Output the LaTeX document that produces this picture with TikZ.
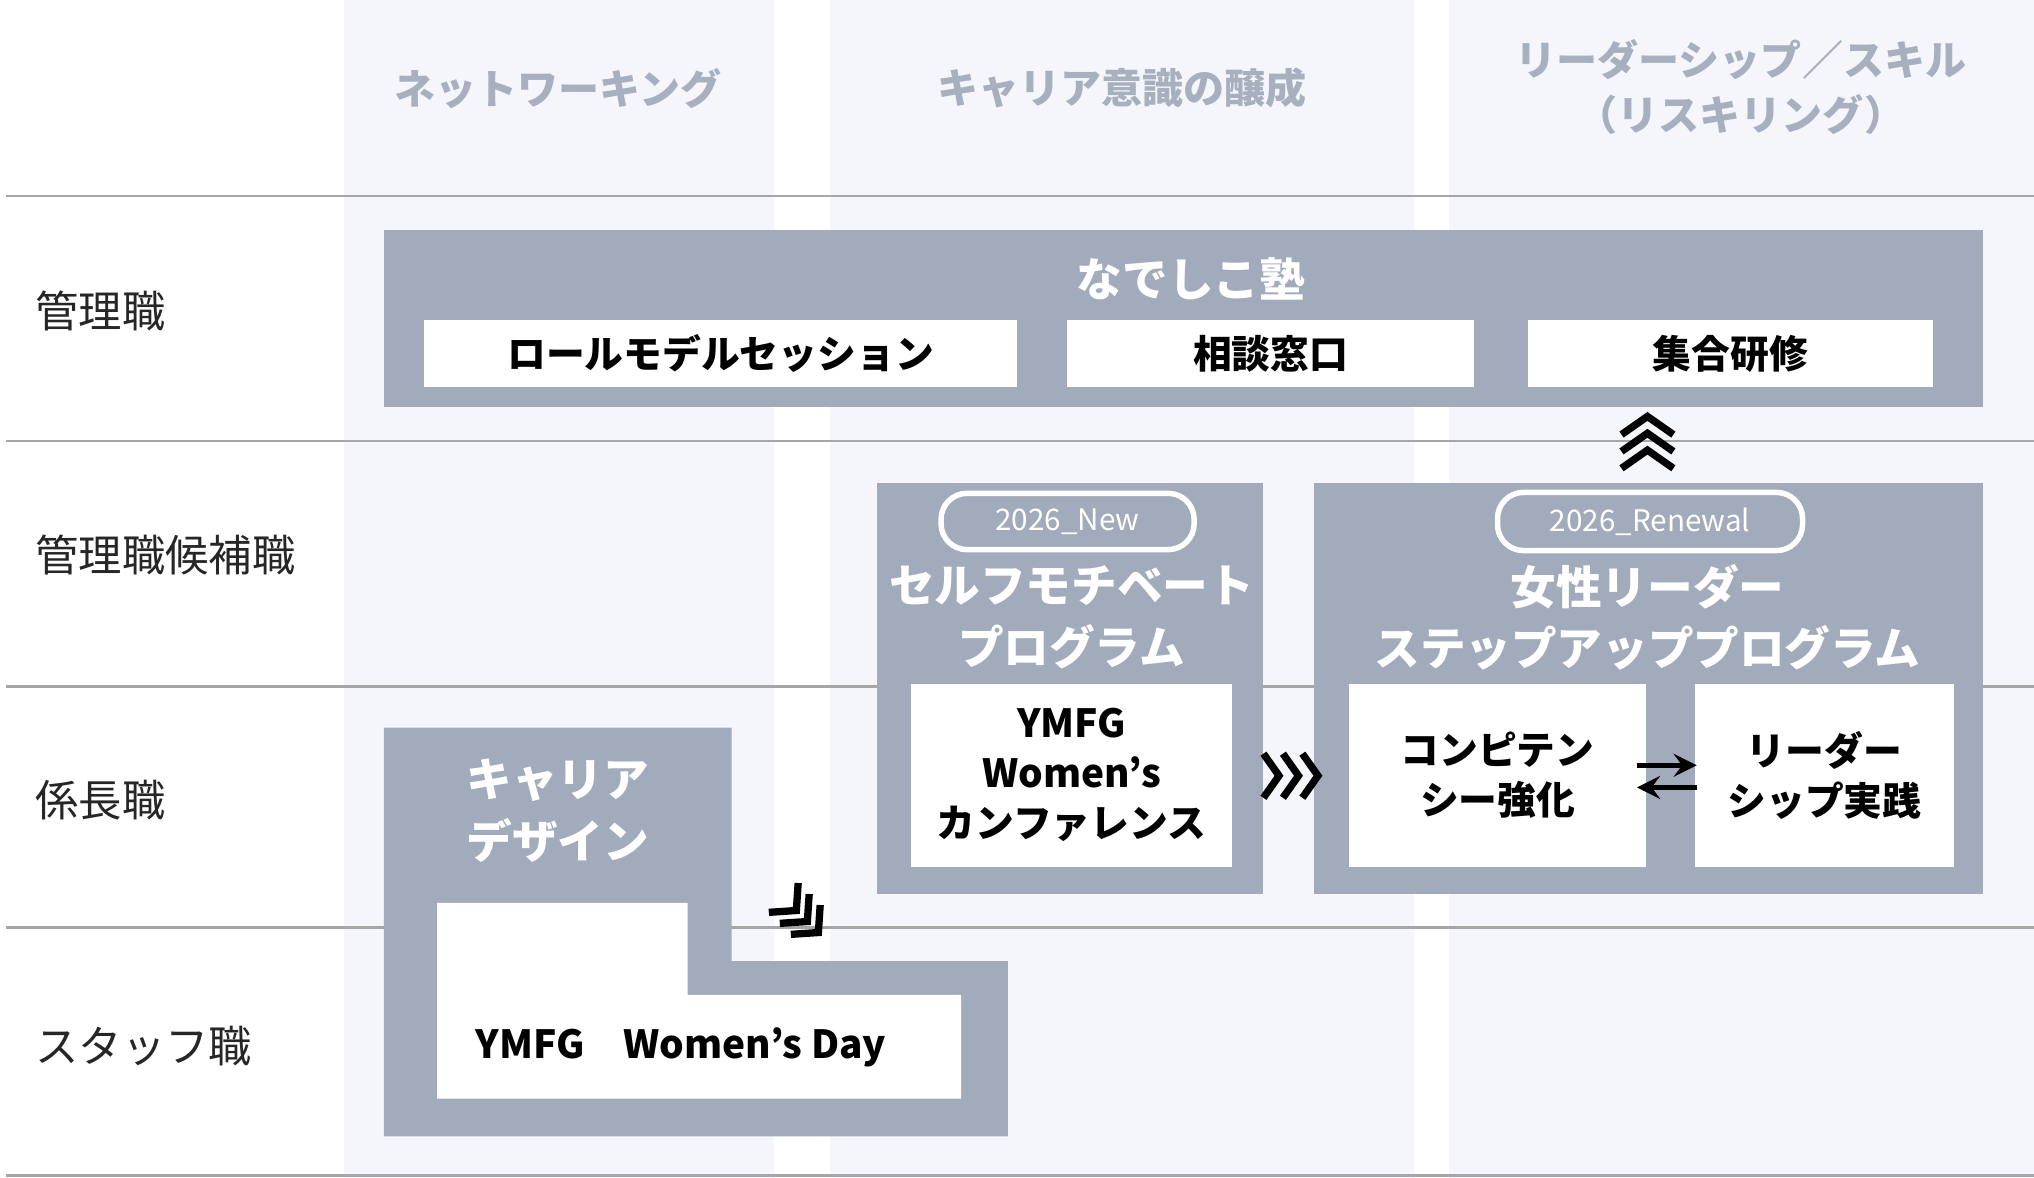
\documentclass[tikz,border=0pt]{standalone}
\usepackage{fontspec}
\setmainfont{Noto Sans CJK JP}
\usetikzlibrary{shapes,arrows,positioning,calc}
\definecolor{boxgray}{HTML}{A2ABBB}
\definecolor{colbg}{HTML}{F4F6FB}
\definecolor{headgray}{HTML}{A8B0BF}
\definecolor{rulegray}{HTML}{A6A6A6}
\begin{document}
\begin{tikzpicture}[x=0.01cm, y=-0.01cm]

% Define styles
\tikzstyle{column} = [fill=colbg, draw=none]
\tikzstyle{header} = [text=headgray, font=\fontsize{9}{12}\selectfont\bfseries, align=center]
\tikzstyle{rowlabel} = [anchor=west, font=\fontsize{9.5}{12}\selectfont, text=black!85]
\tikzstyle{rowline} = [draw=rulegray, line width=0.6pt]
\tikzstyle{program} = [fill=boxgray, draw=none]
\tikzstyle{title} = [text=white, font=\fontsize{10}{13.5}\selectfont\bfseries, align=center]
\tikzstyle{item} = [fill=white, draw=none, font=\fontsize{8.5}{11}\selectfont\bfseries, align=center, inner sep=0pt]
\tikzstyle{tag} = [draw=white, line width=1.2pt, rounded corners=0.2cm, minimum height=0.4cm, text=white, font=\fontsize{6.5}{8}\selectfont]
\tikzstyle{chevron} = [line width=1.6pt, black]
\tikzstyle{arrow} = [line width=1.2pt, ->, >=stealth]

\useasboundingbox (0,0) rectangle (1568,908);

% Columns
\fill [column] (265,0) rectangle (597,908);
\fill [column] (640,0) rectangle (1090,908);
\fill [column] (1117,0) rectangle (1568,908);
\node (h_net) [header] at (430,68) {ネットワーキング};
\node (h_career) [header] at (865,68) {キャリア意識の醸成};
\node (h_leader) [header] at (1342,67) {リーダーシップ／スキル\\（リスキリング）};

% Rows
\foreach \y in {151,340,529,715,906}
  \draw [rowline] (5,\y) -- (1568,\y);
\node (r_mgr) [rowlabel] at (15,240) {管理職};
\node (r_cand) [rowlabel] at (15,428) {管理職候補職};
\node (r_chief) [rowlabel] at (15,617) {係長職};
\node (r_staff) [rowlabel] at (15,806) {スタッフ職};

% Nadeshiko
\fill [program] (296,177) rectangle (1529,314);
\node (nad_title) [title] at (918,215) {なでしこ塾};
\node (nad_1) [item, minimum width=4.57cm, minimum height=0.51cm] at (555.5,272.5) {ロールモデルセッション};
\node (nad_2) [item, minimum width=3.13cm, minimum height=0.51cm] at (979.5,272.5) {相談窓口};
\node (nad_3) [item, minimum width=3.12cm, minimum height=0.51cm] at (1334,272.5) {集合研修};

% Self motivate
\fill [program] (676,372) rectangle (974,689);
\node (self_tag) [tag, minimum width=1.95cm] at (823,402) {2026\_New};
\node (self_title) [title] at (826,476) {セルフモチベート\\プログラム};
\node (self_1) [item, minimum width=2.48cm, minimum height=1.41cm] at (826,597.5) {YMFG\\Women’s\\カンファレンス};

% Leader step up
\fill [program] (1013,372) rectangle (1529,689);
\node (lead_tag) [tag, minimum width=2.35cm] at (1272,402) {2026\_Renewal};
\node (lead_title) [title] at (1270,476) {女性リーダー\\ステップアッププログラム};
\node (lead_1) [item, minimum width=2.29cm, minimum height=1.41cm] at (1154.5,597.5) {コンピテン\\シー強化};
\node (lead_2) [item, minimum width=1.99cm, minimum height=1.41cm] at (1406.5,597.5) {リーダー\\シップ実践};
\coordinate (sw_a) at (1262,590);
\coordinate (sw_b) at (1308,590);
\coordinate (sw_c) at (1308,607);
\coordinate (sw_d) at (1262,607);
\draw [arrow] (sw_a) -- (sw_b);
\draw [arrow] (sw_c) -- (sw_d);

% Career design
\fill [program] (296,561) -- (564,561) -- (564,741) -- (777,741) -- (777,876) -- (296,876) -- cycle;
\node (cd_title) [title] at (430,625) {キャリア\\デザイン};
\fill [white] (337,696) -- (530,696) -- (530,767) -- (741,767) -- (741,847) -- (337,847) -- cycle;
\node (cd_1) [font=\fontsize{8.5}{11}\selectfont\bfseries] at (525,807) {YMFG　Women’s Day};

% Chevrons
\foreach \d in {0,13,26}
  \draw [chevron] ($(1250,335)+(0,\d)$) -- ++(20,-14) -- ++(20,14);
\foreach \d in {0,15,30}
  \draw [chevron] ($(974,581)+(\d,0)$) -- ++(12,17) -- ++(-12,17);
\foreach \d in {0,12,24}
  \draw [chevron, shift={(604,692)}, rotate=-45] (\d,-16) -- ++(14,16) -- ++(-14,16);

\end{tikzpicture}
\end{document}
